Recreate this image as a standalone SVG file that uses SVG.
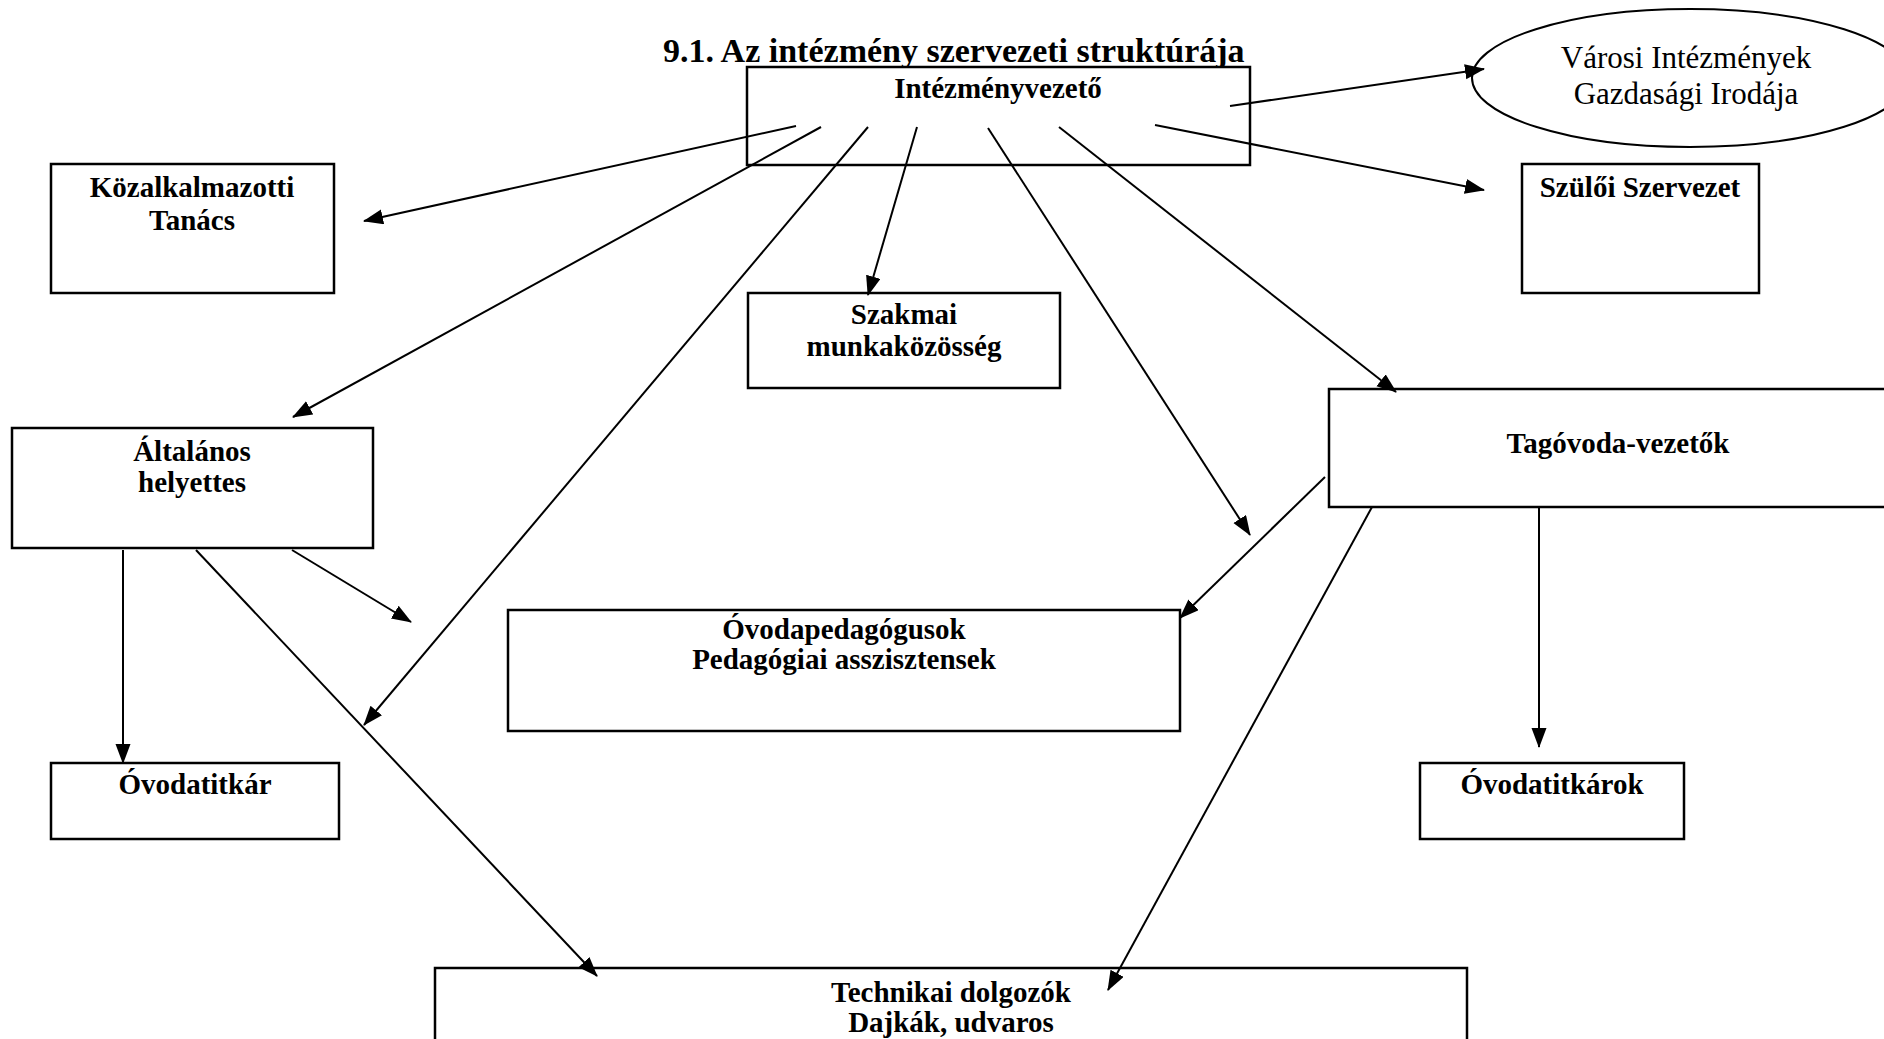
<svg xmlns="http://www.w3.org/2000/svg" width="1884" height="1039" viewBox="0 0 1884 1039">
<defs>
<style>
.box{fill:#fff;stroke:#000;stroke-width:2.5}
.lbl{font-family:"Liberation Serif","Times New Roman",serif;font-weight:bold;font-size:29px;fill:#000;text-anchor:middle}
.reg{font-family:"Liberation Serif","Times New Roman",serif;font-size:31px;fill:#000;text-anchor:middle}
.ttl{font-family:"Liberation Serif","Times New Roman",serif;font-weight:bold;font-size:34px;fill:#000}
.con line{stroke:#000;stroke-width:2;marker-end:url(#ah)}
</style>
<marker id="ah" markerUnits="userSpaceOnUse" markerWidth="20" markerHeight="16" refX="19" refY="7.5" orient="auto">
<path d="M0,0 L20,7.5 L0,15 z" fill="#000"/>
</marker>
</defs>
<rect width="1884" height="1039" fill="#fff"/>
<text class="ttl" x="663" y="62">9.1. Az intézmény szervezeti struktúrája</text>

<g id="intezmenyvezeto"><rect class="box" x="747" y="67" width="503" height="98"/><text class="lbl" x="998" y="98">Intézményvezető</text></g>
<g id="varosi"><ellipse cx="1690" cy="78" rx="218" ry="69" fill="#fff" stroke="#000" stroke-width="2"/><text class="reg" x="1686" y="68">Városi Intézmények</text><text class="reg" x="1686" y="104">Gazdasági Irodája</text></g>
<g id="szuloi"><rect class="box" x="1522" y="164" width="237" height="129"/><text class="lbl" x="1640" y="197">Szülői Szervezet</text></g>
<g id="kozalkalmazotti"><rect class="box" x="51" y="164" width="283" height="129"/><text class="lbl" x="192" y="197">Közalkalmazotti</text><text class="lbl" x="192" y="230">Tanács</text></g>
<g id="szakmai"><rect class="box" x="748" y="293" width="312" height="95"/><text class="lbl" x="904" y="324">Szakmai</text><text class="lbl" x="904" y="356">munkaközösség</text></g>
<g id="altalanos"><rect class="box" x="12" y="428" width="361" height="120"/><text class="lbl" x="192" y="461">Általános</text><text class="lbl" x="192" y="492">helyettes</text></g>
<g id="tagovoda"><rect class="box" x="1329" y="389" width="578" height="118"/><text class="lbl" x="1618" y="453">Tagóvoda-vezetők</text></g>
<g id="ovodapedagogusok"><rect class="box" x="508" y="610" width="672" height="121"/><text class="lbl" x="844" y="639">Óvodapedagógusok</text><text class="lbl" x="844" y="669">Pedagógiai asszisztensek</text></g>
<g id="ovodatitkar"><rect class="box" x="51" y="763" width="288" height="76"/><text class="lbl" x="195" y="794">Óvodatitkár</text></g>
<g id="ovodatitkarok"><rect class="box" x="1420" y="763" width="264" height="76"/><text class="lbl" x="1552" y="794">Óvodatitkárok</text></g>
<g id="technikai"><rect class="box" x="435" y="968" width="1032" height="90"/><text class="lbl" x="951" y="1002">Technikai dolgozók</text><text class="lbl" x="951" y="1032">Dajkák, udvaros</text></g>

<g id="connectors" class="con">
<line x1="796" y1="126" x2="364" y2="221"/>
<line x1="821" y1="127" x2="293" y2="417"/>
<line x1="868" y1="127" x2="364" y2="725"/>
<line x1="917" y1="127" x2="868" y2="295"/>
<line x1="988" y1="128" x2="1250" y2="535"/>
<line x1="1059" y1="127" x2="1396" y2="392"/>
<line x1="1155" y1="125" x2="1484" y2="190"/>
<line x1="1230" y1="106" x2="1484" y2="69"/>
<line x1="123" y1="550" x2="123" y2="763"/>
<line x1="196" y1="550" x2="597" y2="976"/>
<line x1="292" y1="550" x2="411" y2="622"/>
<line x1="1325" y1="477" x2="1180" y2="618"/>
<line x1="1372" y1="507" x2="1108" y2="990"/>
<line x1="1539" y1="507" x2="1539" y2="747"/>
</g>
</svg>
